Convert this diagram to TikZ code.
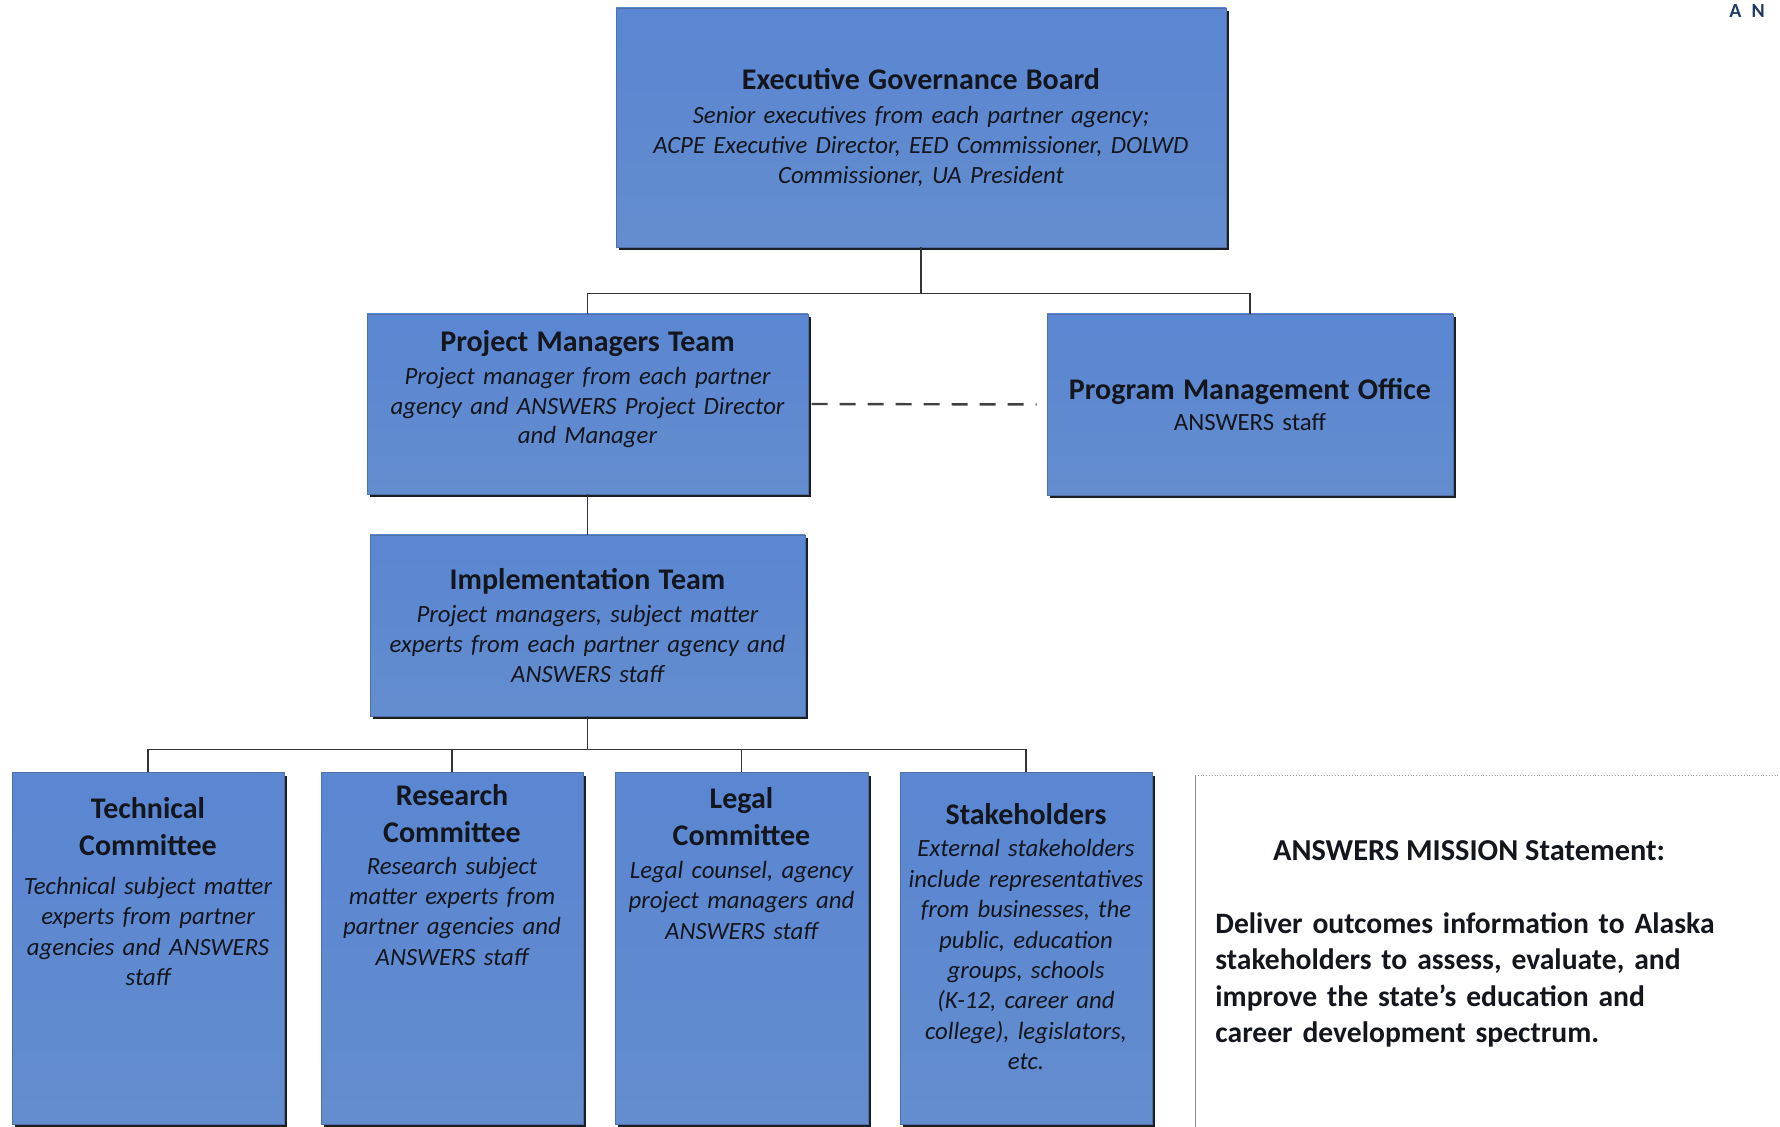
\documentclass[tikz,border=0pt]{standalone}
\usepackage{fontspec}
\setmainfont{Carlito}
\usetikzlibrary{positioning,shadows}

\definecolor{boxtop}{RGB}{90,134,210}
\definecolor{boxbot}{RGB}{99,141,206}
\definecolor{boxshade}{RGB}{28,30,38}
\definecolor{ink}{RGB}{20,22,30}
\definecolor{logoblue}{RGB}{31,56,100}

\newcommand{\boxtitle}[1]{{\fontsize{15}{18.3}\selectfont\bfseries #1}}

\begin{document}
\begin{tikzpicture}
		[x=0.5pt, y=-0.5pt,
		orgbox/.style={rectangle,top color=boxtop,bottom color=boxbot,
draw=boxbot!80!black,line width=0.3pt,inner sep=2pt,
drop shadow={shadow xshift=1.6pt,shadow yshift=-1.6pt,fill=boxshade,opacity=1},
text=ink,align=center,font=\fontsize{12.4}{14.9}\selectfont},
		subtext/.style={text=ink,align=center,inner sep=0pt,text width=130pt,
font=\fontsize{12.4}{15.2}\selectfont},
		conn/.style={draw=black!80,line width=0.75pt},
		linkdash/.style={draw=black!75,line width=1.2pt,dash pattern=on 8pt off 6pt},
		missiontext/.style={text=ink,inner sep=0pt,
font=\fontsize{14.8}{18.2}\selectfont\bfseries}]
		\useasboundingbox (0,0) rectangle (1780,1127);
		% upper levels
		\node at (921, 127.5) (exec) [orgbox,minimum width=305pt,minimum height=119.5pt,text width=295pt]
			{\boxtitle{Executive Governance Board}\\[2pt]
			\itshape Senior executives from each partner agency;\\
			ACPE Executive Director, EED Commissioner, DOLWD\\
			Commissioner, UA President};
		\node at (587.5, 404) (pm) [orgbox,minimum width=220.5pt,minimum height=90pt,text width=212pt]
			{\boxtitle{Project Managers Team}\\[1.5pt]
			\itshape Project manager from each partner\\
			agency and ANSWERS Project Director\\
			and Manager\\[2pt]\mbox{}};
		\node at (1250, 404.5) (pmo) [orgbox,minimum width=203pt,minimum height=90.5pt,text width=195pt]
			{\boxtitle{Program Management Office}\\[0.5pt]
			ANSWERS staff};
		\node at (587.5, 625.5) (impl) [orgbox,minimum width=217.5pt,minimum height=90.5pt,text width=210pt]
			{\boxtitle{Implementation Team}\\[1.5pt]
			\itshape Project managers, subject matter\\
			experts from each partner agency and\\
			ANSWERS staff};
		% committees, cut off by the page edge
		\node at (148, 772) (tech) [orgbox,anchor=north,minimum width=136pt,minimum height=176pt] {};
		\node at (452, 772) (res) [orgbox,anchor=north,minimum width=131pt,minimum height=176pt] {};
		\node at (741.5, 772) (legal) [orgbox,anchor=north,minimum width=126.5pt,minimum height=176pt] {};
		\node at (1026, 772) (stake) [orgbox,anchor=north,minimum width=126pt,minimum height=176pt] {};
		\node [subtext,below=12.5pt of tech.north] (techtxt)
			{\boxtitle{Technical\\[3.3pt]Committee}\\[4.3pt]
			\itshape Technical subject matter\\ experts from partner\\
			agencies and ANSWERS\\ staff};
		\node [subtext,below=6pt of res.north] (restxt)
			{\boxtitle{Research\\[3.3pt]Committee}\\[0.6pt]
			\itshape Research subject\\ matter experts from\\
			partner agencies and\\ ANSWERS staff};
		\node [subtext,below=7.5pt of legal.north] (legaltxt)
			{\boxtitle{Legal\\[3.3pt]Committee}\\[1.2pt]
			\itshape Legal counsel, agency\\ project managers and\\
			ANSWERS staff};
		\node [subtext,below=15.5pt of stake.north] (staketxt)
			{\boxtitle{Stakeholders}\\[1pt]
			\itshape External stakeholders\\ include representatives\\
			from businesses, the\\ public, education\\ groups, schools\\
			(K-12, career and\\ college), legislators,\\ etc.};
		% mission statement
		\node at (1195, 775) (mission) [anchor=north west,minimum width=300pt,minimum height=180pt] {};
		\draw[black!45,line width=0.4pt] (mission.north west) -- (mission.south west);
		\draw[black!40,line width=0.4pt,densely dotted] (mission.north west) -- (mission.north east);
		\node at (1469, 851) (mhead) [missiontext,font=\fontsize{15.2}{18.2}\selectfont\bfseries] {ANSWERS MISSION Statement:};
		\node at (1215, 912) (mbody) [missiontext,anchor=north west,align=left,text width=270pt]
			{Deliver outcomes information to Alaska\\
			stakeholders to assess, evaluate, and\\
			improve the state’s education and\\
			career development spectrum.};
		\node at (1729, 11) (logo) [anchor=west,inner sep=0pt,text=logoblue,font=\fontsize{10}{12}\selectfont\bfseries] {A\hspace{5pt}N};
		% connectors
		\draw[conn] (exec.south) -- ++(0,46) coordinate (topsplit) -| (pm.north);
		\draw[conn] (topsplit) -| (pmo.north);
		\draw[conn] (pm.south) -- (impl.north);
		\draw[conn] (impl.south) -- ++(0,33) coordinate (lowsplit);
		\foreach \n in {tech,res,legal,stake}
			\draw[conn] (lowsplit) -| (\n.north);
		\draw[linkdash,shorten <=1.6pt,shorten >=5pt] (pm.east) -- (pmo.west);
	\end{tikzpicture}
\end{document}
